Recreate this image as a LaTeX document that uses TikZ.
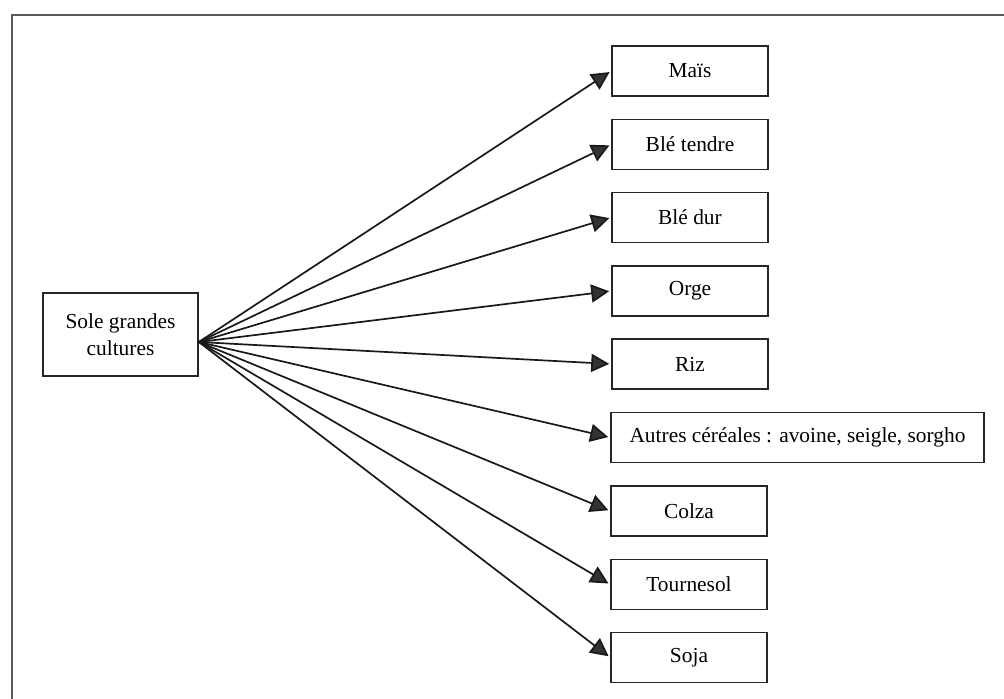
\documentclass[tikz,border=0pt]{standalone}
\usepackage{fontspec}
\setmainfont{Liberation Serif}
\usetikzlibrary{arrows.meta}
\begin{document}
\begin{tikzpicture}[x=0.5pt,y=-0.5pt,
  box/.style={draw=black!85,line width=0.8pt,inner sep=0pt,minimum width=78pt,minimum height=25pt,font=\fontsize{10.7}{13.5}\selectfont,align=center},
  conn/.style={draw=black!90,line width=0.85pt,shorten >=1pt,-{Triangle[length=9pt,width=9pt,fill=black!80]}},
  frame/.style={draw=black!65,line width=1pt}]
\useasboundingbox (0,0) rectangle (1004,699);
\coordinate (fa) at (12,699);
\coordinate (fb) at (12,15);
\coordinate (fc) at (1004,15);
\draw[frame] (fa) -- (fb) -- (fc);
\node[box,minimum width=77.5pt,minimum height=41.5pt] (src) at (120.5,334.5) {Sole grandes\\cultures};
\coordinate (hub) at ([yshift=-3.75pt]src.east);
\node[box] (mais) at (690,71) {Maïs};
\node[box] (bt) at (690,144.5) {Blé tendre};
\node[box] (bd) at (690,217.5) {Blé dur};
\node[box] (orge) at (690,291) {Orge};
\node[box] (riz) at (690,364) {Riz};
\node[box,minimum width=186.5pt] (autres) at (797.5,437.5) {Autres céréales : avoine, seigle, sorgho};
\node[box] (colza) at (689,511) {Colza};
\node[box] (tour) at (689,584.5) {Tournesol};
\node[box] (soja) at (689,657.5) {Soja};
\foreach \t in {mais,bt,bd,orge,riz,autres,colza,tour,soja}
  \draw[conn] (hub) -- (\t.west);
\end{tikzpicture}
\end{document}
